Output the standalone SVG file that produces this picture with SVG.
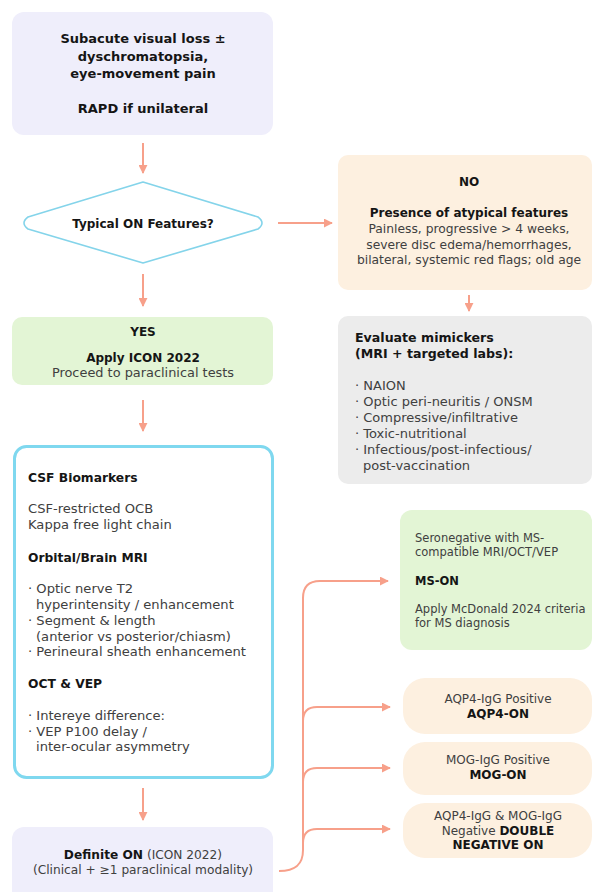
<svg xmlns="http://www.w3.org/2000/svg" width="593" height="892" viewBox="0 0 593 892">
<defs>
<style>
text{font-family:"DejaVu Sans","Liberation Sans",sans-serif;fill:#404040;font-size:12.5px}
.b{font-weight:700;fill:#151515}
.m{text-anchor:middle}
.conn{fill:none;stroke:#f7a08a;stroke-width:2}
#start text{font-size:13px}
#decision text{font-size:12px}
#no text{font-size:12.3px}
#no .b{font-size:12px}
#mimickers text{font-size:13px}
#mimickers .b{font-size:12.6px}
#yes text{font-size:12.9px}
#yes .b{font-size:12px}
#paraclinical text{font-size:13.1px}
#paraclinical .b{font-size:12.3px}
#definite text{font-size:12.2px}
#ms-on text{font-size:11.5px}
.pill text{font-size:12px}
</style>
<marker id="ah" viewBox="0 0 10 10" refX="9" refY="5" markerWidth="9" markerHeight="9" markerUnits="userSpaceOnUse" orient="auto">
<path d="M0,0 L10,5 L0,10 z" fill="#f7a08a"/>
</marker>
</defs>
<rect width="593" height="892" fill="#ffffff"/>

<g id="connectors">
<path class="conn" d="M143,143 V173" marker-end="url(#ah)"/>
<path class="conn" d="M278,223 H332" marker-end="url(#ah)"/>
<path class="conn" d="M469,295 V311" marker-end="url(#ah)"/>
<path class="conn" d="M143,274 V306" marker-end="url(#ah)"/>
<path class="conn" d="M143,400 V431" marker-end="url(#ah)"/>
<path class="conn" d="M143,788 V820" marker-end="url(#ah)"/>
<path class="conn" d="M279,871 C296,871 303,864 303,850 V598 Q303,581 320,581 H388" marker-end="url(#ah)"/>
<path class="conn" d="M303,721 Q303,707 317,707 H390" marker-end="url(#ah)"/>
<path class="conn" d="M303,782 Q303,768 317,768 H390" marker-end="url(#ah)"/>
<path class="conn" d="M303,843 Q303,829 317,829 H390" marker-end="url(#ah)"/>
</g>

<g id="start">
<rect x="12" y="12" width="261" height="123" rx="12" fill="#efeefb"/>
<text class="b m" x="143" y="43">Subacute visual loss ±</text>
<text class="b m" x="143" y="61">dyschromatopsia,</text>
<text class="b m" x="143" y="78">eye-movement pain</text>
<text class="b m" x="143" y="113">RAPD if unilateral</text>
</g>

<g id="decision">
<path d="M143,182 L258,217 Q266,223 258,229 L143,263 L28,229 Q20,223 28,217 Z" fill="#ffffff" stroke="#84d4ea" stroke-width="1.6" stroke-linejoin="round"/>
<text class="b m" x="143" y="227.5">Typical ON Features?</text>
</g>

<g id="no">
<rect x="338" y="155" width="254" height="135" rx="10" fill="#fdf0e0"/>
<text class="b m" x="469" y="186">NO</text>
<text class="b m" x="469" y="217">Presence of atypical features</text>
<text class="m" x="469" y="233">Painless, progressive &gt; 4 weeks,</text>
<text class="m" x="469" y="249">severe disc edema/hemorrhages,</text>
<text class="m" x="469" y="264">bilateral, systemic red flags; old age</text>
</g>

<g id="mimickers">
<rect x="338" y="316" width="254" height="168" rx="10" fill="#ececec"/>
<text class="b" x="355" y="342">Evaluate mimickers</text>
<text class="b" x="355" y="358">(MRI + targeted labs):</text>
<text x="355" y="390">· NAION</text>
<text x="355" y="406">· Optic peri-neuritis / ONSM</text>
<text x="355" y="422">· Compressive/infiltrative</text>
<text x="355" y="438">· Toxic-nutritional</text>
<text x="355" y="454">· Infectious/post-infectious/</text>
<text x="363" y="470">post-vaccination</text>
</g>

<g id="yes">
<rect x="12" y="317" width="261" height="68" rx="10" fill="#e3f5d5"/>
<text class="b m" x="143" y="336">YES</text>
<text class="b m" x="143" y="362">Apply ICON 2022</text>
<text class="m" x="143" y="377">Proceed to paraclinical tests</text>
</g>

<g id="paraclinical">
<rect x="14.5" y="446.5" width="258" height="331" rx="12" fill="#ffffff" stroke="#7fd8ef" stroke-width="3"/>
<text class="b" x="28" y="482">CSF Biomarkers</text>
<text x="28" y="513">CSF-restricted OCB</text>
<text x="28" y="529">Kappa free light chain</text>
<text class="b" x="28" y="562">Orbital/Brain MRI</text>
<text x="28" y="593">· Optic nerve T2</text>
<text x="36" y="609">hyperintensity / enhancement</text>
<text x="28" y="625">· Segment &amp; length</text>
<text x="36" y="641">(anterior vs posterior/chiasm)</text>
<text x="28" y="656">· Perineural sheath enhancement</text>
<text class="b" x="28" y="688">OCT &amp; VEP</text>
<text x="28" y="720">· Intereye difference:</text>
<text x="28" y="736">· VEP P100 delay /</text>
<text x="36" y="751">inter-ocular asymmetry</text>
</g>

<g id="definite">
<rect x="12" y="827" width="261" height="80" rx="12" fill="#efeefb"/>
<text class="m" x="143" y="859"><tspan class="b">Definite ON</tspan> (ICON 2022)</text>
<text class="m" x="143" y="874">(Clinical + ≥1 paraclinical modality)</text>
</g>

<g id="ms-on">
<rect x="400" y="510" width="192" height="140" rx="12" fill="#e3f5d5"/>
<text x="415" y="542">Seronegative with MS-</text>
<text x="415" y="556">compatible MRI/OCT/VEP</text>
<text class="b" x="415" y="585">MS-ON</text>
<text x="415" y="613">Apply McDonald 2024 criteria</text>
<text x="415" y="627">for MS diagnosis</text>
</g>

<g id="aqp4" class="pill">
<rect x="403" y="678" width="189" height="56" rx="22" fill="#fdf0e0"/>
<text class="m" x="498" y="703">AQP4-IgG Positive</text>
<text class="m b" x="498" y="718">AQP4-ON</text>
</g>

<g id="mog" class="pill">
<rect x="403" y="742" width="189" height="53" rx="22" fill="#fdf0e0"/>
<text class="m" x="498" y="764">MOG-IgG Positive</text>
<text class="m b" x="498" y="779">MOG-ON</text>
</g>

<g id="double-negative" class="pill">
<rect x="403" y="803" width="189" height="55" rx="22" fill="#fdf0e0"/>
<text class="m" x="498" y="820">AQP4-IgG &amp; MOG-IgG</text>
<text class="m" x="498" y="835">Negative <tspan class="b">DOUBLE</tspan></text>
<text class="m b" x="498" y="849">NEGATIVE ON</text>
</g>
</svg>
